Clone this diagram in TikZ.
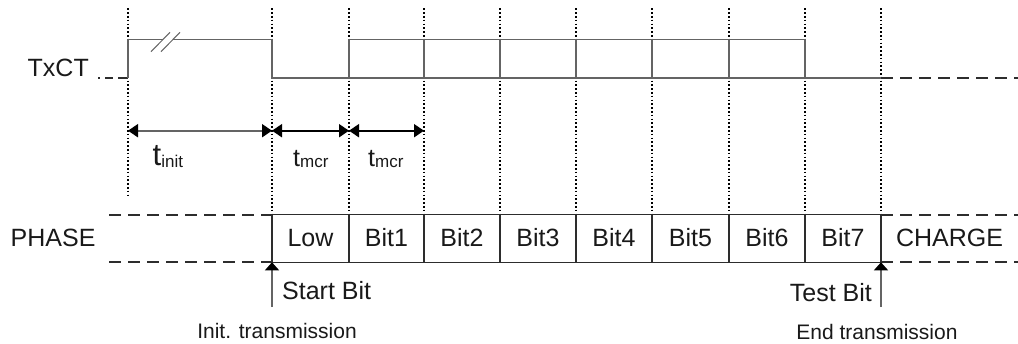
\documentclass[tikz,border=0pt]{standalone}
\usepackage{fontspec}
\setmainfont{Liberation Sans}
\usetikzlibrary{arrows.meta}
\definecolor{sigc}{RGB}{100,100,100}
\definecolor{boxc}{RGB}{45,45,45}
\begin{document}
\begin{tikzpicture}[x=1pt,y=-1pt,
  sig/.style={line width=1.6pt, draw=sigc, line join=miter},
  slash/.style={line width=1pt, draw=sigc},
  gridline/.style={line width=1.1pt, dash pattern=on 1.6pt off 2.2pt},
  dashline/.style={line width=2pt, draw=boxc, dash pattern=on 12pt off 7pt},
  tarrow/.style={line width=2pt, {Triangle[length=10pt,width=13pt,color=black]}-{Triangle[length=10pt,width=13pt,color=black]}},
  uparrow/.style={line width=1.2pt, draw=sigc, -{Triangle[length=8pt,width=14pt,color=black]}},
  boxline/.style={line width=1.3pt, draw=boxc},
  lbl/.style={font=\fontsize{25}{30}\selectfont, inner sep=0pt, text=black!90},
  small/.style={font=\fontsize{21}{25}\selectfont, inner sep=0pt, text=black!90},
]
\useasboundingbox (0,0) rectangle (1018,343);
% x positions
\coordinate (a) at (128,0);
\coordinate (b) at (272,0);
\coordinate (c) at (349,0);
\coordinate (d) at (424,0);
\coordinate (e) at (500,0);
\coordinate (f) at (576,0);
\coordinate (g) at (652,0);
\coordinate (h) at (729,0);
\coordinate (i) at (805,0);
\coordinate (j) at (881,0);
% y levels
\coordinate (top) at (0,8.3);
\coordinate (hi) at (0,39.3);
\coordinate (lo) at (0,77.7);
\coordinate (ar) at (0,130.7);
\coordinate (pt) at (0,214.7);
\coordinate (pb) at (0,262.3);
% dotted vertical lines
\draw[gridline] (a |- top) -- (128,198);
\foreach \n in {b,c,d,e,f,g,h,i,j}{
  \draw[gridline] (\n |- top) -- (\n |- pt);
}
% TxCT signal
\coordinate (s0) at (98,77.7);
\coordinate (br1) at (163,39.3);
\coordinate (br2) at (173,39.3);
\coordinate (send) at (1018,77.7);
\draw[line width=2pt, draw=boxc, dash pattern=on 2pt off 5pt on 8pt off 5pt on 10pt] (s0) -- (a |- lo);
\draw[sig] (a |- lo) -- (a |- hi) -- (br1);
\draw[sig] (br2) -- (b |- hi) -- (b |- lo) -- (c |- lo) -- (c |- hi) -- (i |- hi) -- (i |- lo) -- (j |- lo);
\draw[sig] (c |- lo) -- (i |- lo);
\foreach \n in {d,e,f,g,h}{
  \draw[sig] (\n |- hi) -- (\n |- lo);
}
\draw[slash] (151,51.7) -- (170,32.3);
\draw[slash] (161,51.7) -- (180,32.3);
\draw[dashline] (j |- lo) -- (send);
% timing arrows
\draw[tarrow, draw=sigc] (a |- ar) -- (b |- ar);
\draw[tarrow] (b |- ar) -- (c |- ar);
\draw[tarrow] (c |- ar) -- (d |- ar);
\node[lbl, anchor=base west] (tinit) at (152.5,165) {{\fontsize{31}{31}\selectfont t}\raisebox{-2pt}{\fontsize{17}{17}\selectfont init}};
\node[lbl, anchor=base west] (tmcr1) at (293,166) {t\raisebox{-1pt}{\fontsize{17}{17}\selectfont mcr}};
\node[lbl, anchor=base west] (tmcr2) at (368,166) {t\raisebox{-1pt}{\fontsize{17}{17}\selectfont mcr}};
% labels
\node[lbl, anchor=base west] (txct) at (27.5,76) {TxCT};
\node[lbl, anchor=base west] (phase) at (10.5,246.5) {PHASE};
% phase boxes
\draw[dashline] (109,214.7) -- (b |- pt);
\draw[dashline] (109,262.3) -- (b |- pb);
\draw[dashline] (j |- pt) -- (1018,214.7);
\draw[dashline] (j |- pb) -- (1018,262.3);
\draw[boxline] (b |- pt) rectangle (j |- pb);
\foreach \n in {c,d,e,f,g,h,i}{
  \draw[boxline] (\n |- pt) -- (\n |- pb);
}
\foreach \nm/\xx/\t in {low/310.5/Low, b1/386.5/Bit1, b2/462/Bit2, b3/538/Bit3, b4/614/Bit4, b5/690.5/Bit5, b6/767/Bit6, b7/843/Bit7, chg/949.5/CHARGE}{
  \node[lbl, anchor=base] (\nm) at (\xx,246.5) {\t};
}
% markers
\coordinate (sa) at (272,307);
\coordinate (ea) at (881,307);
\draw[uparrow] (sa) -- (b |- pb);
\draw[uparrow] (ea) -- (j |- pb);
\node[lbl, anchor=base west] (start) at (282,299) {Start Bit};
\node[lbl, anchor=base east] (test) at (872,301.5) {Test Bit};
\node[small, anchor=base] (init) at (277,338) {Init. transmission};
\node[small, anchor=base] (endt) at (877,339) {End transmission};
\end{tikzpicture}
\end{document}
